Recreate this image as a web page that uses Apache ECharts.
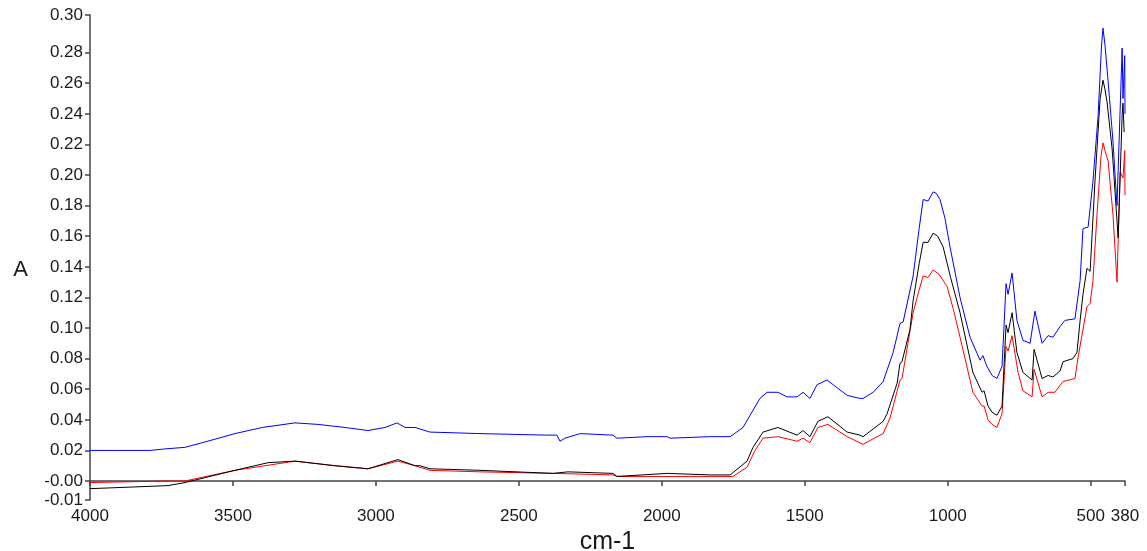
<!DOCTYPE html>
<html>
<head>
<meta charset="utf-8">
<script src="https://cdn.jsdelivr.net/npm/echarts@6/dist/echarts.min.js"></script>
<style>
html,body{margin:0;padding:0;background:#fff;}
#chart{width:1147px;height:551px;}
</style>
</head>
<body>
<div id="chart"></div>
<script>
// x-axis tick labels (wavenumber, cm-1)
var xTickValues = [4000, 3500, 3000, 2500, 2000, 1500, 1000, 500, 380];
// y-axis tick values; the two edge values are labelled with yEdgeLabels
var yTickValues = [-0.0124, 0, 0.02, 0.04, 0.06, 0.08, 0.10, 0.12, 0.14, 0.16, 0.18, 0.20, 0.22, 0.24, 0.26, 0.28, 0.3046];
var yEdgeLabels = {min: '-0.01', zero: '-0.00', max: '0.30'};

// spectra: [wavenumber, absorbance]
var blueSpectrum = [
  [4000,0.020],[3902,0.020],[3790,0.020],[3738,0.021],[3668,0.022],[3608,0.025],[3493,0.031],
  [3398,0.035],[3283,0.038],[3202,0.037],[3108,0.035],[3028,0.033],[2968,0.035],[2926,0.038],
  [2898,0.035],[2863,0.035],[2811,0.032],[2636,0.031],[2402,0.030],[2367,0.030],[2356,0.026],
  [2339,0.028],[2286,0.031],[2171,0.030],[2157,0.028],[2052,0.029],[1982,0.029],[1971,0.028],
  [1831,0.029],[1761,0.029],[1716,0.035],[1657,0.054],[1632,0.058],[1594,0.058],[1562,0.055],
  [1527,0.055],[1506,0.058],[1482,0.054],[1457,0.063],[1422,0.066],[1401,0.063],[1352,0.056],
  [1307,0.054],[1296,0.054],[1261,0.058],[1226,0.065],[1191,0.084],[1167,0.103],[1156,0.104],
  [1121,0.134],[1100,0.165],[1086,0.184],[1069,0.183],[1051,0.189],[1040,0.188],[1027,0.184],
  [1010,0.172],[992,0.153],[957,0.120],[922,0.094],[887,0.079],[877,0.082],[863,0.075],
  [845,0.069],[828,0.067],[810,0.075],[796,0.129],[789,0.122],[775,0.136],[758,0.105],
  [737,0.092],[712,0.090],[695,0.111],[670,0.090],[649,0.095],[632,0.094],[607,0.101],
  [590,0.105],[555,0.106],[537,0.131],[527,0.165],[509,0.166],[492,0.196],[474,0.239],
  [462,0.285],[457,0.296],[450,0.285],[439,0.261],[422,0.222],[408,0.180],[390,0.283],
  [387,0.250],[381,0.278],[380,0.240]
];
var blackSpectrum = [
  [4000,-0.005],[3727,-0.003],[3668,-0.001],[3493,0.007],[3377,0.012],[3283,0.013],[3143,0.010],
  [3028,0.008],[2923,0.014],[2863,0.010],[2846,0.010],[2811,0.008],[2636,0.007],[2381,0.005],
  [2328,0.006],[2171,0.005],[2157,0.003],[1982,0.005],[1831,0.004],[1761,0.004],[1702,0.013],
  [1681,0.022],[1646,0.032],[1594,0.035],[1527,0.030],[1506,0.033],[1482,0.029],[1454,0.039],
  [1419,0.042],[1352,0.032],[1307,0.030],[1296,0.029],[1261,0.034],[1226,0.039],[1212,0.044],
  [1177,0.064],[1167,0.077],[1160,0.078],[1132,0.099],[1121,0.118],[1100,0.142],[1086,0.156],
  [1069,0.156],[1051,0.162],[1035,0.160],[1016,0.153],[990,0.133],[957,0.110],[912,0.071],
  [880,0.058],[873,0.059],[859,0.049],[845,0.045],[828,0.043],[810,0.049],[796,0.102],
  [789,0.097],[775,0.110],[758,0.084],[737,0.071],[705,0.066],[698,0.086],[670,0.067],
  [649,0.069],[632,0.068],[607,0.072],[597,0.078],[562,0.080],[548,0.084],[537,0.105],
  [527,0.122],[513,0.139],[502,0.137],[485,0.196],[467,0.250],[457,0.262],[450,0.256],
  [443,0.248],[425,0.217],[404,0.159],[390,0.239],[387,0.247],[383,0.228]
];
var redSpectrum = [
  [4000,-0.001],[3727,0.000],[3668,0.000],[3493,0.007],[3283,0.013],[3143,0.010],[3028,0.008],
  [2923,0.013],[2863,0.010],[2811,0.007],[2636,0.006],[2381,0.005],[2171,0.004],[2157,0.003],
  [1831,0.003],[1751,0.003],[1702,0.009],[1674,0.020],[1646,0.028],[1594,0.029],[1527,0.026],
  [1506,0.028],[1482,0.025],[1454,0.035],[1419,0.037],[1352,0.029],[1296,0.024],[1247,0.029],
  [1226,0.031],[1202,0.041],[1167,0.066],[1160,0.067],[1121,0.110],[1100,0.125],[1086,0.134],
  [1069,0.133],[1051,0.138],[1030,0.135],[1002,0.127],[980,0.112],[957,0.094],[912,0.058],
  [880,0.049],[873,0.049],[859,0.040],[845,0.037],[828,0.035],[810,0.044],[796,0.088],
  [789,0.085],[775,0.095],[754,0.071],[737,0.059],[705,0.055],[698,0.073],[670,0.055],
  [649,0.058],[625,0.058],[597,0.065],[555,0.067],[544,0.081],[513,0.114],[502,0.116],
  [492,0.131],[478,0.174],[464,0.212],[457,0.221],[450,0.216],[439,0.209],[422,0.174],
  [408,0.130],[397,0.202],[387,0.198],[381,0.216],[380,0.187]
];

var chart = echarts.init(document.getElementById('chart'), null, {renderer: 'canvas'});
var yMin = yTickValues[0], yMax = yTickValues[yTickValues.length - 1];
var axisColor = '#444';
var textColor = '#1a1a1a';
var font = 'Liberation Sans, Arial, sans-serif';

chart.setOption({
  animation: false,
  backgroundColor: '#fff',
  grid: {left: 90, right: 22, top: 15, bottom: 51, containLabel: false, outerBoundsMode: 'none'},
  xAxis: {
    type: 'value',
    min: 380, max: 4000, inverse: true,
    name: 'cm-1', nameLocation: 'middle', nameGap: 21,
    nameTextStyle: {fontSize: 25, color: textColor, fontFamily: font},
    axisLine: {show: true, lineStyle: {color: axisColor, width: 1.5}},
    axisTick: {show: true, length: 5, customValues: xTickValues, lineStyle: {color: axisColor, width: 1.5}},
    axisLabel: {customValues: xTickValues, fontSize: 17, color: textColor, fontFamily: font, margin: 8,
      formatter: function (v) { return String(Math.round(v)); }},
    splitLine: {show: false}
  },
  yAxis: {
    type: 'value',
    min: yMin, max: yMax,
    name: 'A', nameLocation: 'middle', nameRotate: 0, nameGap: 62,
    nameTextStyle: {fontSize: 22, color: textColor, fontFamily: font, verticalAlign: 'top', padding: [1, 0, 0, 0]},
    axisLine: {show: true, lineStyle: {color: axisColor, width: 1.5}},
    axisTick: {show: true, length: 5, customValues: yTickValues, lineStyle: {color: axisColor, width: 1.5}},
    axisLabel: {customValues: yTickValues, fontSize: 17, color: textColor, fontFamily: font, margin: 7,
      formatter: function (v) {
        if (Math.abs(v - yMin) < 1e-6) return yEdgeLabels.min;
        if (Math.abs(v - yMax) < 1e-6) return yEdgeLabels.max;
        if (Math.abs(v) < 1e-9) return yEdgeLabels.zero;
        return v.toFixed(2);
      }},
    splitLine: {show: false}
  },
  series: [
    {type: 'line', data: redSpectrum, showSymbol: false, symbol: 'none', lineStyle: {color: '#ff0000', width: 1}, z: 2},
    {type: 'line', data: blackSpectrum, showSymbol: false, symbol: 'none', lineStyle: {color: '#000000', width: 1}, z: 3},
    {type: 'line', data: blueSpectrum, showSymbol: false, symbol: 'none', lineStyle: {color: '#0000ff', width: 1}, z: 4}
  ]
});
</script>
</body>
</html>
